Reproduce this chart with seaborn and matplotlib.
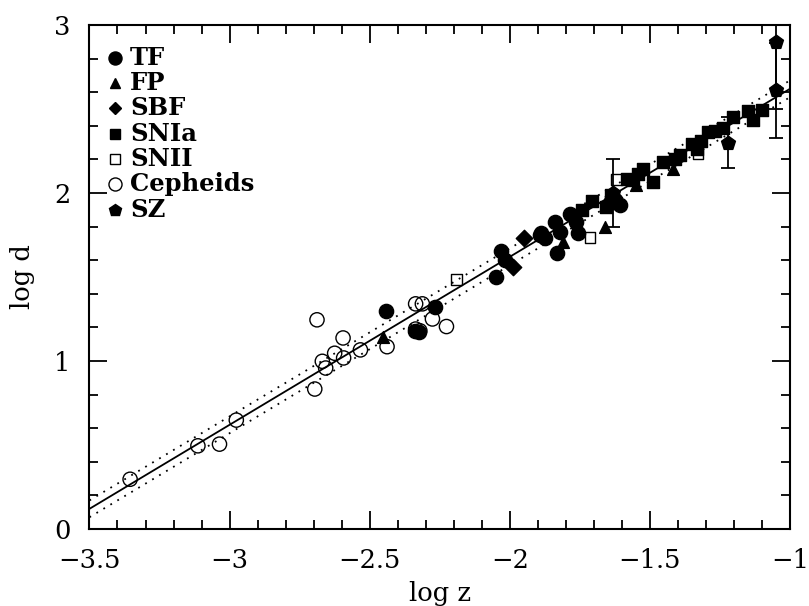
import matplotlib
matplotlib.use("Agg")
import matplotlib.pyplot as plt
import seaborn as sns
import numpy as np
import pandas as pd
from matplotlib.ticker import MultipleLocator

# --- data (log z, log d) ---
tf_x = [-2.443, -2.268, -2.339, -2.324, -2.050, -2.030, -2.018, -1.893, -1.875,
        -1.839, -1.833, -1.786, -1.762, -1.756, -1.820, -1.607, -1.637, -1.888]
tf_y = [1.300, 1.320, 1.180, 1.170, 1.500, 1.655, 1.600, 1.750, 1.730,
        1.830, 1.640, 1.875, 1.830, 1.760, 1.770, 1.930, 1.955, 1.760]

fp_x = [-2.453, -1.810, -1.661, -1.548, -1.419]
fp_y = [1.145, 1.710, 1.800, 2.045, 2.145]

sbf_x = [-1.988, -1.950, -1.630]
sbf_y = [1.560, 1.730, 1.980]

snia_x = [-1.744, -1.705, -1.655, -1.637, -1.583, -1.542, -1.524, -1.488, -1.453,
          -1.411, -1.393, -1.351, -1.333, -1.316, -1.292, -1.268, -1.238, -1.202,
          -1.149, -1.131, -1.101, -1.620, -1.560]
snia_y = [1.900, 1.950, 1.915, 1.985, 2.085, 2.115, 2.140, 2.065, 2.185,
          2.205, 2.224, 2.290, 2.260, 2.310, 2.360, 2.370, 2.385, 2.455,
          2.485, 2.435, 2.495, 1.940, 2.080]

snii_x = [-2.190, -1.714, -1.328, -1.619]
snii_y = [1.485, 1.735, 2.234, 2.080]

ceph_x = [-3.355, -3.113, -3.036, -2.976, -2.688, -2.696, -2.669, -2.657, -2.625,
          -2.595, -2.593, -2.533, -2.438, -2.336, -2.312, -2.276, -2.226, -2.336,
          -2.321]
ceph_y = [0.296, 0.495, 0.505, 0.648, 1.245, 0.833, 0.998, 0.958, 1.046,
          1.137, 1.018, 1.066, 1.085, 1.340, 1.340, 1.250, 1.205, 1.190,
          1.180]

sz_x = [-1.630, -1.220, -1.050, -1.050]
sz_y = [2.000, 2.300, 2.610, 2.900]
sz_err = [0.20, 0.15, 0.28, 0.40]

# Hubble line and its band (intercepts in log d = log z + a)
fit_a = 3.62
band_a = [3.67, 3.57]
line_x = [-3.5, -1.0]

xticks = [-3.5, -3, -2.5, -2, -1.5, -1]
xticklabels = ["\u22123.5", "\u22123", "\u22122.5", "\u22122", "\u22121.5", "\u22121"]
yticks = [0, 1, 2, 3]
yticklabels = ["0", "1", "2", "3"]

sns.set_style("ticks")
plt.rcParams["font.family"] = ["DejaVu Serif"]
plt.rcParams["text.color"] = "black"
plt.rcParams["axes.labelcolor"] = "black"
plt.rcParams["xtick.color"] = "black"
plt.rcParams["ytick.color"] = "black"

fig = plt.figure(figsize=(8.09, 6.06), dpi=100)
ax = fig.add_axes([0.1106, 0.1271, 0.8659, 0.8317])

lx = np.array(line_x)
ax.plot(lx, lx + fit_a, color="black", lw=1.3, zorder=1)
for a in band_a:
    ax.plot(lx, lx + a, color="black", lw=1.3, ls=(0, (1, 3.5)), zorder=1)

groups = [
    ("TF", tf_x, tf_y, "o", 105, True),
    ("FP", fp_x, fp_y, "^", 72, True),
    ("SBF", sbf_x, sbf_y, "D", 70, True),
    ("SNIa", snia_x, snia_y, "s", 66, True),
    ("SNII", snii_x, snii_y, "s", 56, False),
    ("Cepheids", ceph_x, ceph_y, "o", 105, False),
]

for name, gx, gy, mk, size, filled in groups:
    df = pd.DataFrame({"logz": gx, "logd": gy})
    sns.scatterplot(data=df, x="logz", y="logd", marker=mk, s=size,
                    color="black", edgecolor="black", linewidth=1.0,
                    ax=ax, zorder=3, legend=False)
    if not filled:
        ax.collections[-1].set_facecolor("none")

ax.errorbar(sz_x, sz_y, yerr=sz_err, fmt="none", ecolor="black",
            elinewidth=1.3, capsize=5, capthick=1.3, zorder=2)
sns.scatterplot(x=sz_x, y=sz_y, marker="p", s=110, color="black",
                edgecolor="black", linewidth=1.0, ax=ax, zorder=4, legend=False)

ax.set_xlim(-3.5, -1)
ax.set_ylim(0, 3)
ax.set_xticks(xticks)
ax.set_xticklabels(xticklabels)
ax.set_yticks(yticks)
ax.set_yticklabels(yticklabels)
ax.xaxis.set_minor_locator(MultipleLocator(0.1))
ax.yaxis.set_minor_locator(MultipleLocator(0.2))
ax.tick_params(which="both", direction="in", top=True, right=True,
               width=1.3, labelsize=18.5, pad=13.5, colors="black")
ax.tick_params(which="major", length=13)
ax.tick_params(which="minor", length=6.5)
for sp in ax.spines.values():
    sp.set_linewidth(1.5)
    sp.set_color("black")

ax.set_xlabel("log z", fontsize=18.5, labelpad=6, color="black")
ax.set_ylabel("log d", fontsize=18.5, labelpad=14, color="black")

# legend drawn by hand, as in the original
leg_items = [
    ("TF", "o", 9.4, True),
    ("FP", "^", 6.8, True),
    ("SBF", "D", 6.6, True),
    ("SNIa", "s", 7.2, True),
    ("SNII", "s", 7.2, False),
    ("Cepheids", "o", 9.4, False),
    ("SZ", "p", 9.0, True),
]
row_y = 0.935
for label, mk, ms, filled in leg_items:
    ax.plot([0.0364], [row_y], marker=mk, ms=ms, transform=ax.transAxes,
            color="black", mfc="black" if filled else "none", mew=1.0,
            ls="none", clip_on=False)
    ax.text(0.058, row_y, label, transform=ax.transAxes, fontsize=17.5,
            fontweight="bold", va="center", ha="left", color="black")
    row_y -= 0.0503

fig.savefig("out.png", dpi=100)
plt.close(fig)
